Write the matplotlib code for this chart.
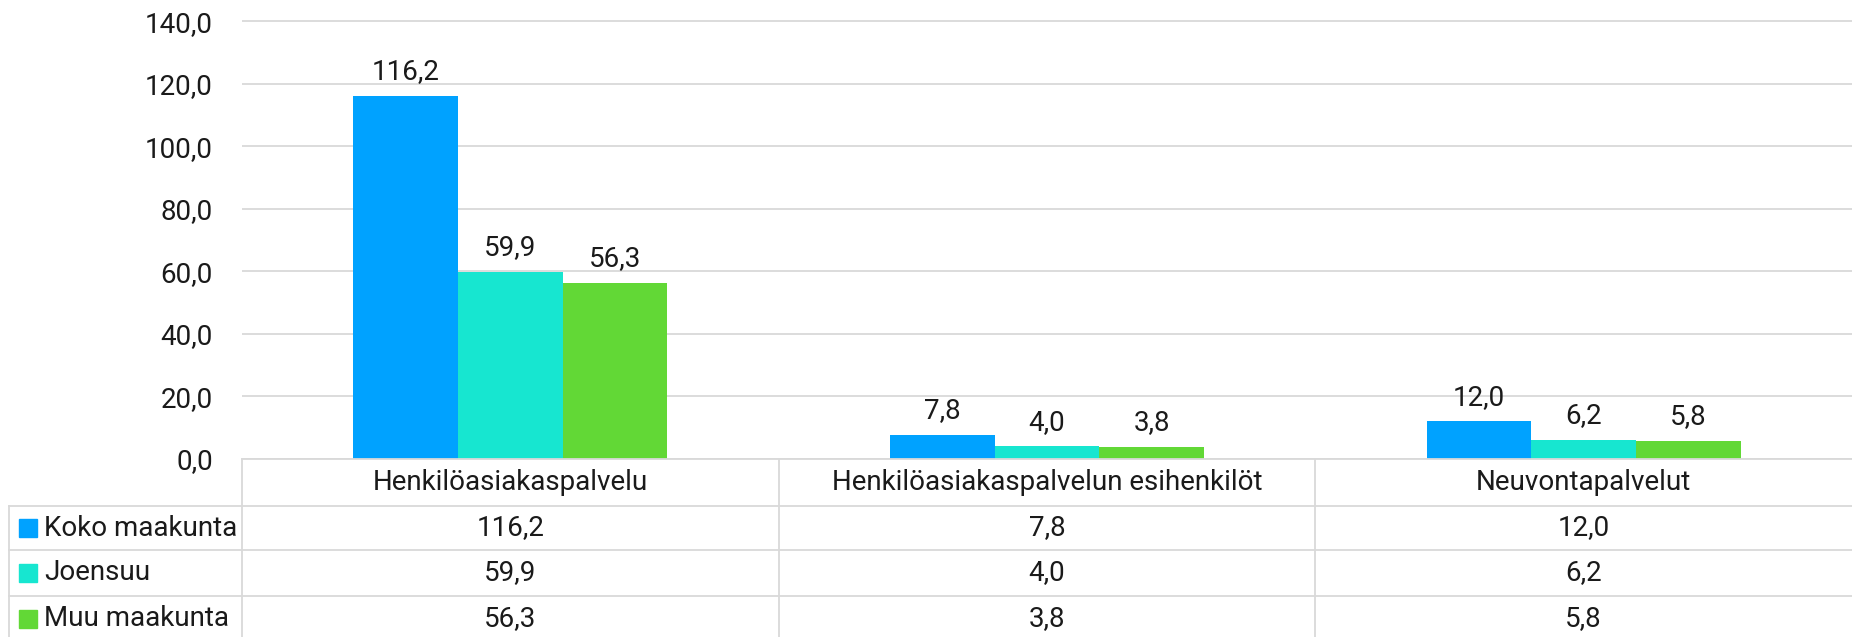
import matplotlib
matplotlib.use('Agg')
import matplotlib.pyplot as plt
from matplotlib.patches import Rectangle

categories = ['Henkilöasiakaspalvelu', 'Henkilöasiakaspalvelun esihenkilöt', 'Neuvontapalvelut']
series = ['Koko maakunta', 'Joensuu', 'Muu maakunta']
koko = [116.2, 7.8, 12.0]
joensuu = [59.9, 4.0, 6.2]
muu = [56.3, 3.8, 5.8]
colors = ['#00a2ff', '#17e6d0', '#62d836']
yticks = [0, 20, 40, 60, 80, 100, 120, 140]

def fmt(v):
    return '{:.1f}'.format(v).replace('.', ',')

plt.rcParams['font.family'] = ['Roboto', 'DejaVu Sans']
fs = 20
txt = '#1a1a1a'
grid = '#d9d9d9'

W, H = 1852, 637
fig = plt.figure(figsize=(W / 100, H / 100), dpi=100)

left, base, top = 242, 459, 15
ymax = 142
ax = fig.add_axes([left / W, (H - base) / H, 1 - left / W, (base - top) / H])
ax.set_xlim(-0.5, 2.5)
ax.set_ylim(0, ymax)
for s in ax.spines.values():
    s.set_visible(False)
ax.set_yticks(yticks)
ax.set_yticklabels([fmt(t) for t in yticks], fontsize=fs, color=txt)
ax.tick_params(axis='y', length=0, pad=21)
ax.set_xticks([])
ax.yaxis.grid(True, color=grid, lw=1.3)
ax.set_axisbelow(True)

bw = 0.195
data = [koko, joensuu, muu]
for i, (vals, col) in enumerate(zip(data, colors)):
    xs = [c + (i - 1) * bw for c in range(len(categories))]
    ax.bar(xs, vals, width=bw, color=col, zorder=2)
    for x, v in zip(xs, vals):
        ax.annotate(fmt(v), (x, v), xytext=(0, 12), textcoords='offset points',
                    ha='center', va='baseline', fontsize=fs, color=txt)

# data table under the chart, y in pixels from the top of the figure
tax = fig.add_axes([left / W, 0, 1 - left / W, (H - base) / H])
tax.set_xlim(-0.5, 2.5)
tax.set_ylim(H, base)
tax.axis('off')
cat_px = (W - left) / 3
x0 = -0.5 - (left - 9) / cat_px
rows = [459, 506, 550, 596]
lk = dict(color=grid, lw=1.3, clip_on=False)
tax.plot([-0.5, 2.5], [rows[0], rows[0]], **lk)
for y in rows[1:]:
    tax.plot([x0, 2.5], [y, y], **lk)
for x in [-0.5, 0.5, 1.5]:
    tax.plot([x, x], [rows[0], H], **lk)
tax.plot([x0, x0], [rows[1], H], **lk)

hy = (rows[0] + rows[1]) / 2
for c, name in enumerate(categories):
    tax.text(c, hy, name, ha='center', va='center', fontsize=fs, color=txt)
bounds = rows[1:] + [H + 4]
for r, (name, vals, col) in enumerate(zip(series, data, colors)):
    yc = (bounds[r] + bounds[r + 1]) / 2
    mx = -0.5 - (left - 19) / cat_px
    tax.add_patch(Rectangle((mx, yc - 9), 18 / cat_px, 18, color=col, clip_on=False))
    tax.text(-0.5 - (left - 44) / cat_px, yc, name, ha='left', va='center',
             fontsize=fs, color=txt, clip_on=False)
    for c, v in enumerate(vals):
        tax.text(c, yc, fmt(v), ha='center', va='center', fontsize=fs, color=txt)

fig.savefig('out.png', dpi=100)
